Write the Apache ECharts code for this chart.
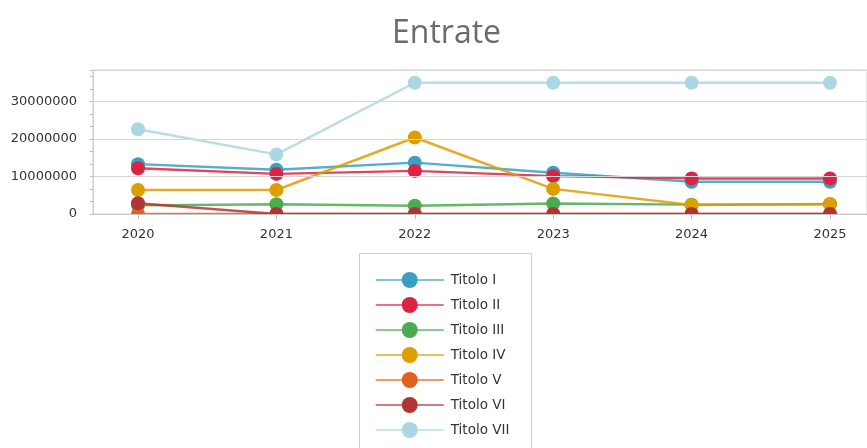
<!DOCTYPE html>
<html>
<head>
<meta charset="utf-8">
<script src="https://cdn.jsdelivr.net/npm/echarts@6/dist/echarts.min.js"></script>
<style>html,body{margin:0;padding:0;background:#fff}#c{width:867px;height:448px}</style>
</head>
<body>
<div id="c"></div>
<script>
var years = [2020, 2021, 2022, 2023, 2024, 2025];
var seriesNames = ['Titolo I', 'Titolo II', 'Titolo III', 'Titolo IV', 'Titolo V', 'Titolo VI', 'Titolo VII'];
var titoloI   = [13300000, 11800000, 13700000, 11000000, 8600000, 8600000];
var titoloII  = [12200000, 10700000, 11500000, 10100000, 9500000, 9500000];
var titoloIII = [2300000, 2600000, 2200000, 2800000, 2500000, 2600000];
var titoloIV  = [6400000, 6400000, 20400000, 6700000, 2400000, 2700000];
var titoloV   = [0, 0, 0, 0, 0, 0];
var titoloVI  = [2850000, 0, 0, 0, 0, 0];
var titoloVII = [22600000, 15900000, 35000000, 35000000, 35000000, 35000000];
var yTicks = [0, 10000000, 20000000, 30000000];

var allValues = [titoloI, titoloII, titoloIII, titoloIV, titoloV, titoloVI, titoloVII];
var colors = ['#3a9fc1', '#dc2341', '#4caa4f', '#dd9e00', '#e0611f', '#b23535', '#acd7e2'];
var font = 'DejaVu Sans';

var chart = echarts.init(document.getElementById('c'));
var series = seriesNames.map(function (name, i) {
  return {
    name: name,
    type: 'line',
    data: years.map(function (y, j) { return [y, allValues[i][j]]; }),
    symbol: 'circle',
    symbolSize: 14,
    z: 2,
    clip: true,
    lineStyle: { width: 2.5, color: colors[i], opacity: 0.85 },
    itemStyle: { color: colors[i] },
    emphasis: { disabled: true },
    animation: false
  };
});

chart.setOption({
  animation: false,
  title: {
    text: 'Entrate',
    left: 387,
    top: 13,
    textStyle: { fontFamily: 'Open Sans', fontSize: 32, fontWeight: 'normal', color: '#6b6b6b' }
  },
  grid: {
    left: 93, top: 70, right: -2, bottom: 234,
    show: true, borderColor: '#cfcfcf', borderWidth: 1, backgroundColor: 'transparent'
  },
  xAxis: {
    type: 'value',
    min: 2020 - 45 / 138.4,
    max: 2025 + 37 / 138.4,
    splitNumber: 6,
    z: 10,
    axisLine: { show: true, lineStyle: { color: '#c8c8c8' } },
    axisTick: { show: true, length: 5, lineStyle: { color: '#bbb' } },
    splitLine: { show: false },
    axisLabel: {
      showMinLabel: false, showMaxLabel: false,
      margin: 14,
      fontFamily: font, fontSize: 13, color: '#333',
      formatter: function (v) { return years.indexOf(v) >= 0 ? String(v) : ''; }
    }
  },
  yAxis: {
    type: 'value',
    min: yTicks[0],
    max: 38400000,
    interval: yTicks[1] - yTicks[0],
    z: 10,
    axisLine: { show: true, lineStyle: { color: '#cfcfcf' } },
    axisTick: { show: true, length: 3, lineStyle: { color: '#bbb' } },
    minorTick: { show: true, splitNumber: 3, length: 3, lineStyle: { color: '#bbb' } },
    splitLine: { show: true, lineStyle: { color: '#d6d6d6', width: 1 } },
    axisLabel: {
      showMaxLabel: false,
      margin: 16,
      fontFamily: font, fontSize: 13, color: '#333',
      formatter: function (v) { return yTicks.indexOf(v) >= 0 ? String(v) : ''; }
    }
  },
  legend: {
    orient: 'vertical',
    left: 359,
    top: 253,
    padding: [19, 22, 0, 16],
    itemWidth: 68,
    itemHeight: 20,
    itemGap: 9,
    selectedMode: false,
    lineStyle: { width: 1.5 },
    textStyle: { fontFamily: font, fontSize: 13.5, color: '#333', padding: [0, 0, 0, 2] },
    data: seriesNames
  },
  graphic: [{
    type: 'rect',
    z: 5,
    silent: true,
    shape: { x: 94, y: 214.5, width: 780, height: 14 },
    style: { fill: '#fff' }
  }, {
    type: 'rect',
    z: 0,
    silent: true,
    shape: { x: 359.5, y: 253.5, width: 172, height: 230 },
    style: { fill: 'none', stroke: '#d0d0d0', lineWidth: 1 }
  }],
  series: series
});
</script>
</body>
</html>
